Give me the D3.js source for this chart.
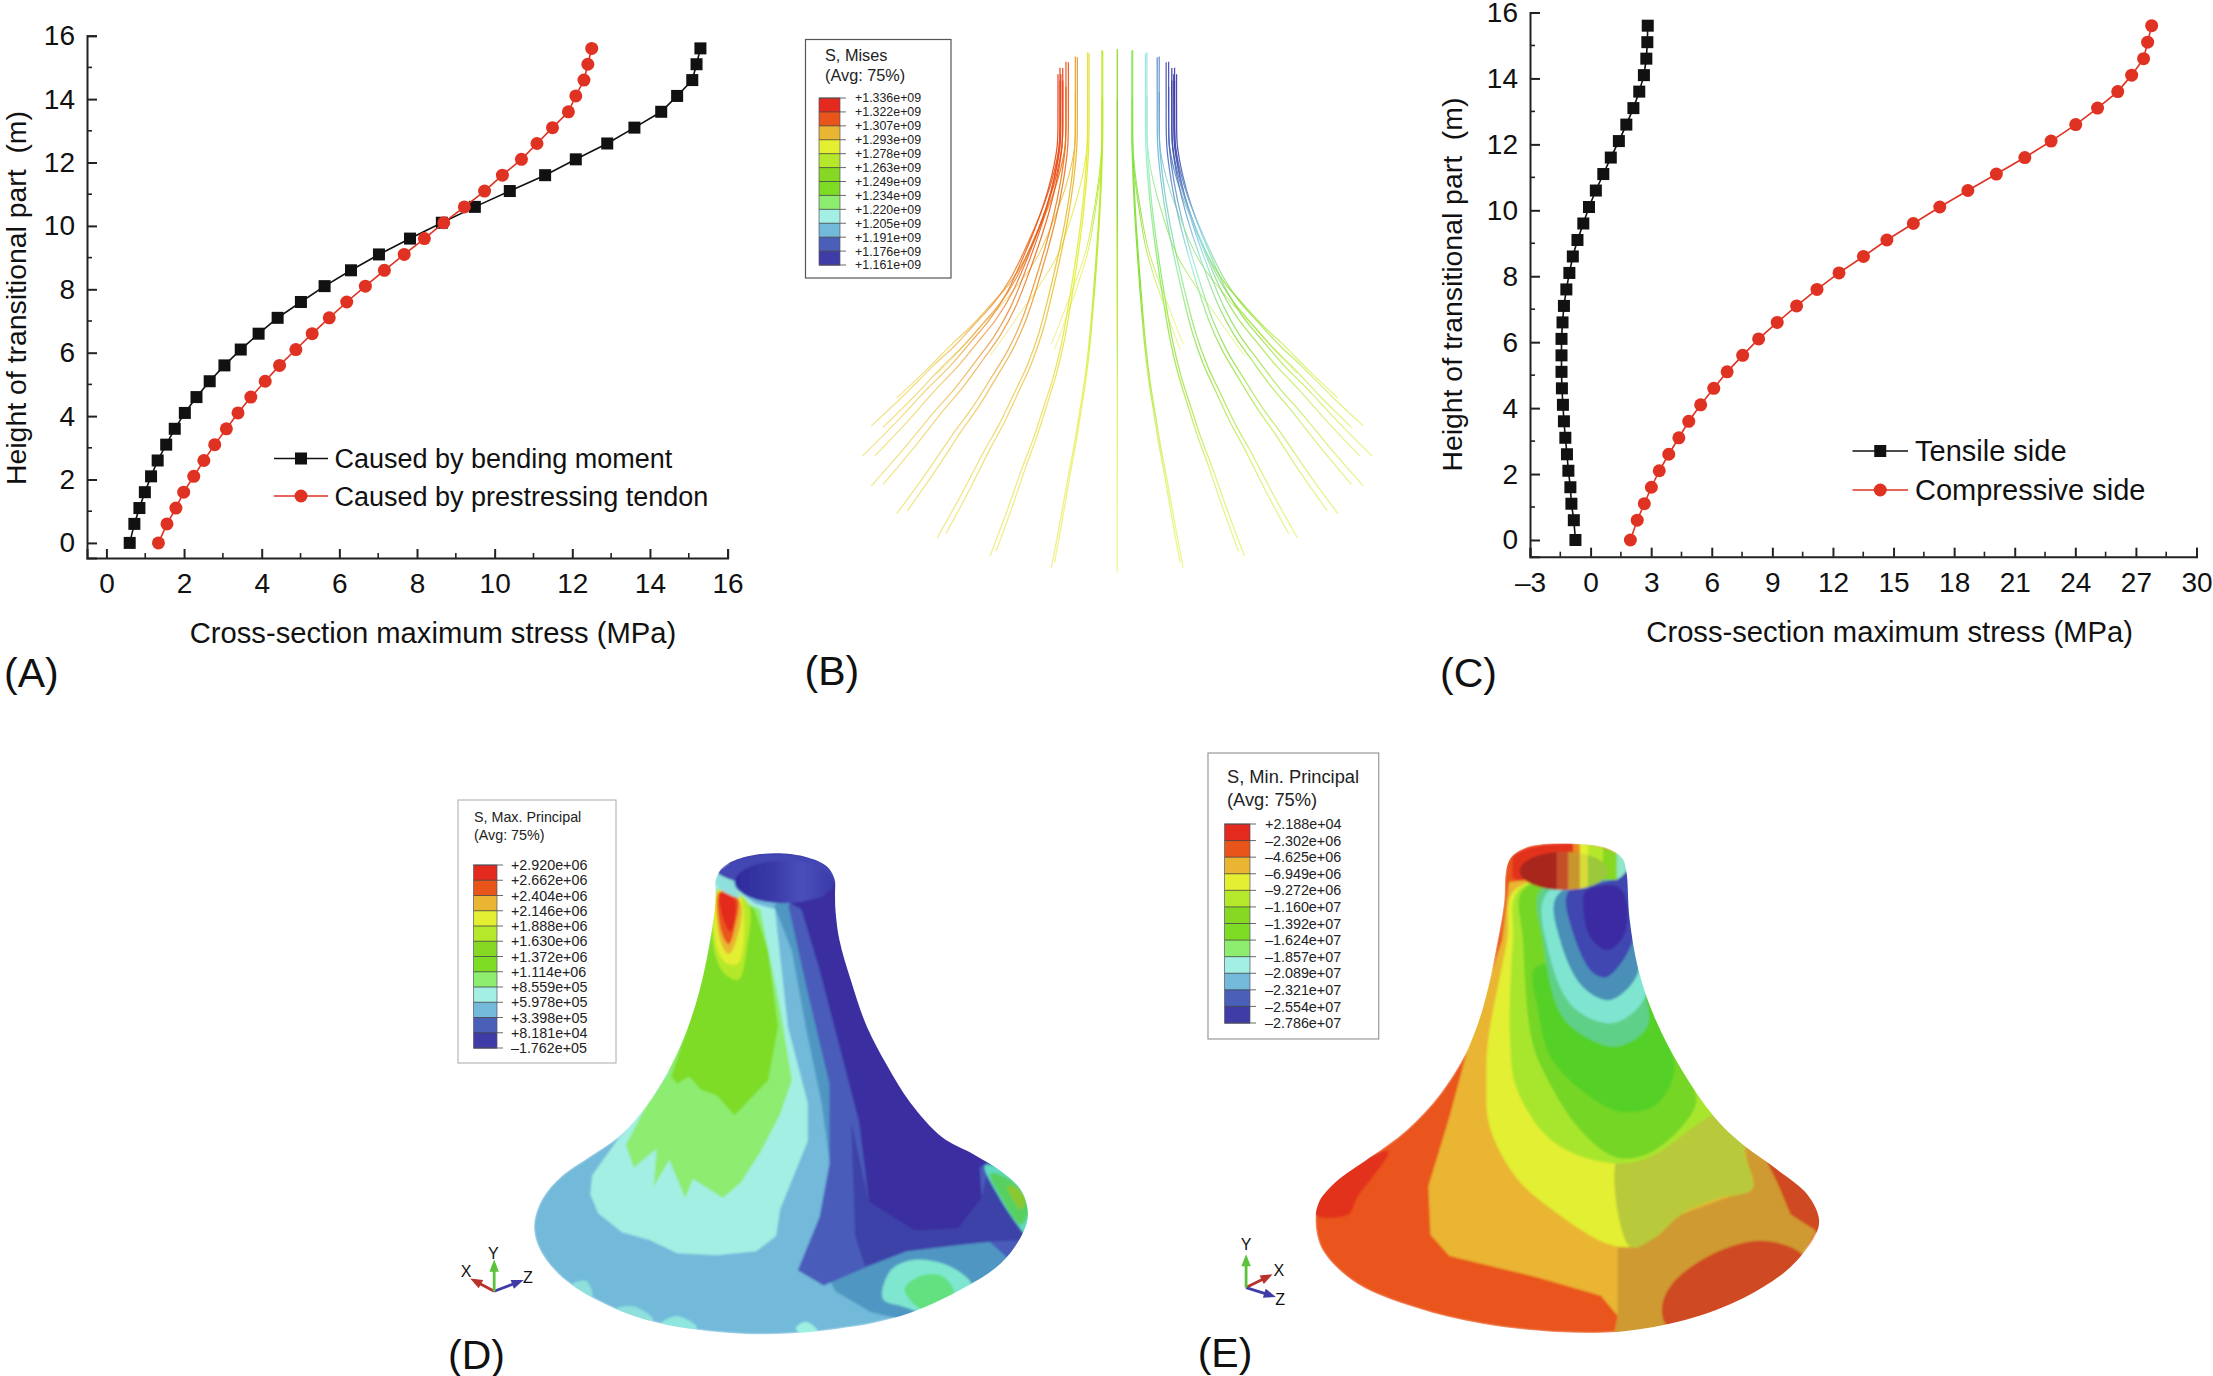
<!DOCTYPE html>
<html><head><meta charset="utf-8">
<script src="https://cdnjs.cloudflare.com/ajax/libs/d3/7.9.0/d3.min.js"></script>
<style>
html,body{margin:0;background:#fff}
svg{display:block}
text{font-family:"Liberation Sans",Arial,sans-serif;fill:#111}
.lg text{fill:#222}
</style></head><body>
<svg id="c" width="2213" height="1376"></svg>
<script>
// ---------- panels A and C: line charts ----------
const heights=[0,.6,1.1,1.6,2.1,2.6,3.1,3.6,4.1,4.6,5.1,5.6,6.1,6.6,7.1,7.6,8.1,8.6,9.1,9.6,10.1,10.6,11.1,11.6,12.1,12.6,13.1,13.6,14.1,14.6,15.1,15.6];
const bendingMoment=[.6,.72,.85,.99,1.15,1.32,1.54,1.76,2.02,2.32,2.66,3.04,3.46,3.92,4.41,5.01,5.62,6.3,7.02,7.82,8.64,9.49,10.39,11.3,12.09,12.9,13.6,14.29,14.7,15.09,15.2,15.3];
const prestressTendon=[1.34,1.56,1.79,1.99,2.25,2.51,2.79,3.09,3.39,3.72,4.09,4.46,4.88,5.3,5.74,6.19,6.67,7.16,7.67,8.19,8.69,9.22,9.74,10.2,10.69,11.09,11.49,11.9,12.09,12.3,12.4,12.5];
const tensileSide=[-.75,-.83,-.95,-1.0,-1.1,-1.17,-1.25,-1.32,-1.37,-1.42,-1.44,-1.44,-1.44,-1.39,-1.32,-1.2,-1.05,-.88,-.65,-.36,-.08,.26,.63,1.0,1.4,1.77,2.12,2.41,2.64,2.76,2.81,2.83];
const compressiveSide=[1.97,2.31,2.66,3.01,3.4,3.87,4.37,4.86,5.45,6.1,6.76,7.53,8.32,9.24,10.2,11.21,12.3,13.51,14.67,15.98,17.29,18.68,20.09,21.5,22.8,24.02,25.1,26.1,26.79,27.38,27.58,27.78];
const xTicksA=[0,2,4,6,8,10,12,14,16], xMinorA=[1,3,5,7,9,11,13,15];
const xTicksC=[-3,0,3,6,9,12,15,18,21,24,27,30], xMinorC=[-1.5,1.5,4.5,7.5,10.5,13.5,16.5,19.5,22.5,25.5,28.5];
const yTicks=[0,2,4,6,8,10,12,14,16], yMinor=[1,3,5,7,9,11,13,15];
const yTitle="Height of transitional part  (m)", xTitle="Cross-section maximum stress (MPa)";

// ---------- contour palette shared by the legends ----------
const palette=['#e4291f','#e9541a','#e9b532','#e3ef30','#b5e82a','#86d822','#7edc25','#8ced6f','#a4efe4','#72b9da','#4a60b8','#3f3ca8'];
const labelsB=['+1.336e+09','+1.322e+09','+1.307e+09','+1.293e+09','+1.278e+09','+1.263e+09','+1.249e+09','+1.234e+09','+1.220e+09','+1.205e+09','+1.191e+09','+1.176e+09','+1.161e+09'];
const labelsD=['+2.920e+06','+2.662e+06','+2.404e+06','+2.146e+06','+1.888e+06','+1.630e+06','+1.372e+06','+1.114e+06','+8.559e+05','+5.978e+05','+3.398e+05','+8.181e+04','\u20131.762e+05'];
const labelsE=['+2.188e+04','\u20132.302e+06','\u20134.625e+06','\u20136.949e+06','\u20139.272e+06','\u20131.160e+07','\u20131.392e+07','\u20131.624e+07','\u20131.857e+07','\u20132.089e+07','\u20132.321e+07','\u20132.554e+07','\u20132.786e+07'];

// ---------- panel B: tendon layout ----------
const tendonAnglesOuter=[-150,-135,-120,-105,-90,-75,-60,-45,-30,-15,0,15,30,45,60,75,90,105,120,135,150,165,180,-165];
const tendonAnglesInner=[-105,-90,-75,-60,-45,-30,-15,15,30,45,60,75,90,105,165,-165];
const profileY=[125,200,290,360,430,530,630,690,740,800,850,930,1005];
const profileR=[150,150,152,166,188,230,280,322,368,425,480,562,644];
// colour band index along the height, at the left and right sides of the ring
const bandS=[0,.2,.45,.65,.85,1];
const bandLeft=[.4,.8,1.1,1.5,2.2,2.5];
const bandRight=[11.4,10.6,8.4,5.8,4.0,3.4];
const bandOpacity=[.95,.95,.9,.75,.62,.55];

// ---------- panel D contours (in crop units) ----------
const dBody=[[697,262],[697,300],[695,340],[680,440],[655,560],[620,670],[575,770],[520,860],[450,940],[380,990],[310,1040],[260,1100],[238,1170],[250,1230],[300,1300],[400,1370],[520,1420],[680,1450],[830,1458],[1000,1445],[1150,1415],[1300,1350],[1420,1270],[1475,1190],[1487,1140],[1470,1080],[1420,1030],[1350,985],[1270,940],[1190,850],[1130,750],[1080,650],[1040,530],[1010,420],[1000,340],[999,300],[998,262],[980,229],[930,204],[848,193],[766,204],[716,229]];
const dSteel=[[845,330],[890,450],[925,650],[965,850],[985,1000],[1000,1180],[950,1240],[1000,1345],[1090,1400],[1170,1420],[1520,1420],[1520,900],[1000,200]];
const dBlue=[[881,330],[930,560],[985,800],[985,1010],[960,1150],[905,1290],[970,1330],[1070,1285],[1180,1240],[1320,1222],[1390,1215],[1440,1262],[1490,1215],[1500,1000],[1250,850],[1000,200]];
const dBlueDeep=[[1040,900],[1085,1110],[1200,1185],[1310,1180],[1370,1100],[1390,1000],[1440,1040],[1480,1210],[1390,1215],[1320,1222],[1180,1240],[1075,1280],[1050,1200]];
const dDark=[[914,340],[960,500],[1010,700],[1060,900],[1085,1110],[1200,1185],[1310,1180],[1370,1100],[1365,1020],[1390,1000],[1500,1000],[1500,180],[720,180],[735,240]];
const dSpotTeal=[[1378,1015],[1410,1090],[1460,1170],[1482,1195],[1500,1100],[1440,1030]];
const dSpotGreen=[[1392,1035],[1420,1100],[1470,1170],[1490,1120],[1440,1050]];
const dSpotCore=[[1435,1070],[1470,1130],[1480,1100],[1455,1070]];
const dPatchTeal=[[1120,1365],[1140,1290],[1200,1262],[1290,1280],[1345,1330],[1300,1372],[1230,1400],[1170,1385]];
const dPatchGreen=[[1175,1340],[1215,1305],[1270,1305],[1300,1350],[1225,1395]];
const dDotA=[[900,1442],[925,1425],[955,1450],[915,1458]];
const dDotB=[[560,1430],[600,1410],[650,1440],[600,1450]];
const dDotC=[[440,1395],[490,1385],[540,1420],[480,1425]];
const dDotD=[[330,1330],[370,1318],[385,1360],[350,1350]];
const dTurq=[[385,1040],[380,1090],[400,1140],[460,1190],[530,1210],[600,1245],[700,1250],[800,1240],[850,1200],[860,1130],[930,950],[930,850],[880,650],[847,340],[796,325],[700,250],[650,560],[520,860],[450,945]];
const dLight=[[575,775],[520,860],[470,960],[490,1020],[548,970],[540,1070],[580,1000],[620,1100],[640,1050],[715,1100],[760,1060],[810,980],[860,880],[890,790],[860,600],[810,340],[700,290]];
const dGreen=[[700,300],[680,440],[620,670],[585,780],[600,800],[630,780],[660,815],[700,830],[745,882],[775,850],[830,790],[855,650],[830,450],[795,340],[750,300]];
const dHot5=[[705,285],[692,440],[720,510],[755,525],[775,450],[778,320]];
const dHot4=[[705,290],[700,440],[725,482],[755,482],[768,340],[755,300]];
const dHot3=[[706,292],[708,420],[730,458],[750,420],[760,320]];
const dHot2=[[707,295],[712,400],[730,432],[745,390],[752,310]];
const dHot1=[[708,298],[718,370],[735,400],[748,320],[735,305]];
const dRimCyan=[[697,262],[710,240],[735,232],[745,280],[760,310],[705,285]];
const dHoleStops=[[0,'#2e2a9c'],[.4,'#3a3aa8'],[.68,'#4a50ba'],[1,'#3a3aaa']];

// ---------- panel E contours (in crop units) ----------
const eBody=[[775,320],[770,400],[750,520],[720,660],[680,770],[620,870],[540,960],[450,1030],[370,1090],[330,1140],[322,1190],[340,1260],[420,1340],[560,1400],[720,1440],[900,1460],[1050,1458],[1200,1430],[1340,1375],[1450,1300],[1510,1220],[1518,1180],[1490,1120],[1420,1060],[1340,1000],[1270,930],[1190,810],[1130,690],[1090,570],[1068,440],[1060,320],[1050,290],[1010,265],[915,255],[830,262],[790,285]];
const eRedLeft=[[320,1170],[400,1170],[420,1130],[495,1015],[440,1030],[340,1100]];
const eRedRight=[[1380,1010],[1420,1095],[1450,1170],[1525,1215],[1530,1100]];
const eRedFoot=[[1145,1400],[1170,1340],[1260,1270],[1370,1235],[1460,1255],[1490,1290],[1350,1390],[1160,1445]];
const eOrange=[[782,350],[765,493],[689,740],[640,930],[590,1100],[595,1220],[640,1272],[850,1325],[1000,1370],[1040,1420],[1030,1475],[1170,1465],[1145,1400],[1170,1340],[1260,1270],[1370,1235],[1480,1270],[1510,1210],[1450,1170],[1420,1095],[1380,1010],[1270,900],[1060,320]];
const eOrangeShade=[[1040,1250],[1040,1420],[1030,1475],[1170,1465],[1145,1400],[1170,1340],[1260,1270],[1370,1235],[1480,1270],[1510,1210],[1450,1170],[1420,1095],[1380,1010],[1340,1000],[1360,1105],[1190,1170],[1070,1250]];
const eYellow=[[795,370],[777,493],[732,740],[728,830],[735,950],[800,1080],[900,1170],[1010,1240],[1070,1250],[1130,1225],[1190,1170],[1280,1130],[1360,1105],[1345,1000],[1500,900],[1400,300],[1060,330]];
const eYellowShade=[[1040,1030],[1070,1250],[1130,1225],[1190,1170],[1280,1130],[1360,1105],[1345,1000],[1500,900],[1270,900],[1100,1025]];
const eLime=[[805,370],[791,493],[784,740],[800,860],[880,985],[1000,1040],[1100,1035],[1225,950],[1400,800],[1300,300],[1060,330]];
const eGreen2=[[815,370],[815,493],[836,740],[870,830],[950,960],[1040,1030],[1130,1010],[1225,900],[1215,840],[1130,600],[1062,340]];
const eGreen1=[[845,560],[850,660],[880,780],[950,860],[1040,915],[1130,900],[1175,810],[1135,690],[1100,600]];
const eMint=[[857,370],[862,493],[903,673],[960,730],[1038,756],[1110,707],[1100,600],[1070,450],[1062,340]];
const eTurq=[[870,380],[879,535],[934,658],[1029,698],[1105,633],[1085,520],[1062,340]];
const eTeal=[[895,385],[903,493],[957,609],[1022,641],[1088,574],[1072,440],[1060,330]];
const eBlue=[[922,375],[934,476],[981,574],[1014,584],[1076,493],[1068,400],[1060,318],[1025,345]];
const eDark=[[958,402],[974,485],[1014,518],[1053,485],[1062,402],[1040,362],[965,372]];
const eRimEdges=[770,790,934,950,969,1005,1038,1065];
const eRimColors=['#e9541a','#e3321f','#e98a20','#e3ef30','#b5e82a','#86d822','#8fe6c8'];
const eHoleEdges=[800,895,922,950,969,1020];
const eHoleColors=['#a8281a','#c4502a','#c9962f','#d8dc3a','#9cc83a'];

// ---------- helpers ----------
const svg=d3.select('#c');
const defs=svg.append('defs');
defs.append('filter').attr('id','soft').append('feGaussianBlur').attr('stdDeviation',.9);
defs.append('filter').attr('id','soft2').append('feGaussianBlur').attr('stdDeviation',.4);

function linePanel(o){
  const x=d3.scaleLinear().domain(o.xDom).range(o.xRange);
  const y=d3.scaleLinear().domain(o.yDom).range(o.yRange);
  const g=svg.append('g');
  const axX=d3.axisBottom(x).tickValues(o.xTicks).tickSize(-9).tickPadding(15).tickFormat(d=>d<0?'\u2013'+(-d):d);
  const axY=d3.axisLeft(y).tickValues(yTicks).tickSize(-10).tickPadding(12);
  const gx=g.append('g').attr('transform',`translate(0,${o.yRange[0]})`).call(axX);
  const gy=g.append('g').attr('transform',`translate(${o.xRange[0]},0)`).call(axY);
  [gx,gy].forEach(a=>{a.selectAll('path,line').attr('stroke','#222').attr('stroke-width',2);
    a.selectAll('text').attr('font-size',28).attr('fill','#111').attr('font-family','"Liberation Sans",Arial,sans-serif');});
  g.selectAll('.mx').data(o.xMinor).join('line').attr('x1',d=>x(d)).attr('x2',d=>x(d)).attr('y1',o.yRange[0]).attr('y2',o.yRange[0]-5).attr('stroke','#222').attr('stroke-width',1.6);
  g.selectAll('.my').data(yMinor).join('line').attr('y1',d=>y(d)).attr('y2',d=>y(d)).attr('x1',o.xRange[0]).attr('x2',o.xRange[0]+5).attr('stroke','#222').attr('stroke-width',1.6);
  const line=d3.line().x(d=>x(d[0])).y(d=>y(d[1]));
  o.series.forEach(s=>{
    const pts=s.values.map((v,i)=>[v,heights[i]]);
    g.append('path').attr('d',line(pts)).attr('fill','none').attr('stroke',s.color).attr('stroke-width',1.6);
    mark(g,s,pts.map(p=>[x(p[0]),y(p[1])]));
  });
  o.series.forEach((s,i)=>{
    const ly=o.legendY[i];
    g.append('line').attr('x1',o.legendX[0]).attr('x2',o.legendX[1]).attr('y1',ly).attr('y2',ly).attr('stroke',s.color).attr('stroke-width',1.6);
    mark(g,s,[[(o.legendX[0]+o.legendX[1])/2,ly]]);
    g.append('text').attr('x',o.legendX[2]).attr('y',ly).attr('dy','.36em').attr('font-size',o.legendFont).text(s.name);
  });
  g.append('text').attr('x',o.xTitle[0]).attr('y',o.xTitle[1]).attr('dy','.36em').attr('text-anchor','middle').attr('font-size',29.2).text(xTitle);
  g.append('text').attr('transform',`translate(${o.yTitle[0]},${o.yTitle[1]}) rotate(-90)`).attr('dy','.36em').attr('text-anchor','middle').attr('font-size',28.4).style('white-space','pre').text(yTitle);
}
function mark(g,s,pts){
  if(s.shape==='square') g.selectAll(null).data(pts).join('rect').attr('x',d=>d[0]-6).attr('y',d=>d[1]-6).attr('width',12).attr('height',12).attr('fill',s.color);
  else g.selectAll(null).data(pts).join('circle').attr('cx',d=>d[0]).attr('cy',d=>d[1]).attr('r',6.5).attr('fill',s.color);
}
function panelLabel(t,x,y){svg.append('text').attr('x',x).attr('y',y).attr('dy','.36em').attr('font-size',41).text(t);}

function legend(o){
  const g=svg.append('g').attr('class','lg');
  g.append('rect').attr('x',o.box[0]).attr('y',o.box[1]).attr('width',o.box[2]-o.box[0]).attr('height',o.box[3]-o.box[1]).attr('fill','#fff').attr('stroke',o.stroke).attr('stroke-width',o.sw);
  o.title.forEach((t,i)=>g.append('text').attr('x',o.titleX).attr('y',o.titleY[i]).attr('dy','.36em').attr('font-size',o.titleFont).text(t));
  const y=d3.scalePoint().domain(o.labels).range(o.bandY);
  g.selectAll(null).data(palette).join('rect').attr('x',o.bandX[0]).attr('width',o.bandX[1]-o.bandX[0])
    .attr('y',(d,i)=>y(o.labels[i])).attr('height',(d,i)=>y(o.labels[i+1])-y(o.labels[i])+.4).attr('fill',d=>d);
  g.selectAll(null).data(o.labels).join('line').attr('x1',o.bandX[0]).attr('x2',o.bandX[1]+6).attr('y1',d=>y(d)).attr('y2',d=>y(d)).attr('stroke','#444').attr('stroke-width',.8);
  g.selectAll(null).data(o.labels).join('text').attr('x',o.labelX).attr('y',d=>y(d)).attr('dy','.36em').attr('font-size',o.labelFont).attr('fill','#111').text(d=>d);
  g.append('rect').attr('x',o.bandX[0]).attr('y',o.bandY[0]).attr('width',o.bandX[1]-o.bandX[0]).attr('height',o.bandY[1]-o.bandY[0]).attr('fill','none').attr('stroke','#556').attr('stroke-width',.7);
}

function triad(g,X,Y,t){
  const arrow=(a,c)=>{
    const ang=Math.atan2(Y(a[1])-Y(t.o[1]),X(a[0])-X(t.o[0]));
    g.append('line').attr('x1',X(t.o[0])).attr('y1',Y(t.o[1])).attr('x2',X(a[0])).attr('y2',Y(a[1])).attr('stroke',c).attr('stroke-width',2.8);
    const ex=X(a[0]),ey=Y(a[1]);
    const p=[[ex+Math.cos(ang)*7,ey+Math.sin(ang)*7],[ex+Math.cos(ang+2.4)*7,ey+Math.sin(ang+2.4)*7],[ex+Math.cos(ang-2.4)*7,ey+Math.sin(ang-2.4)*7]];
    g.append('path').attr('d',d3.line()(p)+'Z').attr('fill',c);
  };
  arrow(t.x,'#b8312a');arrow(t.z,'#3f3ca8');arrow(t.y,'#5cc23a');
  ['lx','ly','lz'].forEach((k,i)=>g.append('text').attr('x',X(t[k][0])).attr('y',Y(t[k][1])).attr('dy','.36em').attr('text-anchor','middle').attr('font-size',16).text('XYZ'[i]));
}

// ---------- draw A, C ----------
linePanel({xDom:[-.5,16],xRange:[87,727.6],yDom:[-.476,16],yRange:[558,35.7],xTicks:xTicksA,xMinor:xMinorA,
  series:[{name:'Caused by bending moment',values:bendingMoment,color:'#111',shape:'square'},{name:'Caused by prestressing tendon',values:prestressTendon,color:'#e03222',shape:'circle'}],
  legendX:[274,328,334.5],legendY:[458.5,496],legendFont:27,xTitle:[433,632],yTitle:[15.5,298]});
linePanel({xDom:[-3,30],xRange:[1530,2196.5],yDom:[-.507,16],yRange:[556.7,12.5],xTicks:xTicksC,xMinor:xMinorC,
  series:[{name:'Tensile side',values:tensileSide,color:'#111',shape:'square'},{name:'Compressive side',values:compressiveSide,color:'#e03222',shape:'circle'}],
  legendX:[1852.5,1908,1915],legendY:[451,490],legendFont:29,xTitle:[1889.6,631],yTitle:[1452,284.6]});
panelLabel('(A)',4,672);panelLabel('(B)',804.5,670);panelLabel('(C)',1440,672);panelLabel('(D)',448,1354);panelLabel('(E)',1197.7,1352);

// ---------- draw B ----------
(function(){
  const X=d3.scaleLinear().domain([0,1568]).range([780,1400]);
  const Y=d3.scaleLinear().domain([0,1568]).range([20,700]);
  const g=svg.append('g').attr('filter','url(#soft2)');
  const cx=853;
  const sOf=d3.scaleLinear().domain([125,1005]).range([0,1]);
  const kOf=d3.scaleLinear().domain([0,1]).range([-58,267]);
  const L=d3.scaleLinear().domain(bandS).range(bandLeft), R=d3.scaleLinear().domain(bandS).range(bandRight);
  const smooth=d3.line().curve(d3.curveCatmullRom).x(d=>X(d[0])).y(d=>Y(d[1]));
  const ramp=d3.piecewise(d3.interpolateRgb,palette);
  const colour=b=>ramp(Math.min(1,Math.max(0,b/11)));
  let id=0;
  function tendon(a,scale){
    const th=a*Math.PI/180;
    const pts=profileY.map((py,i)=>{const s=sOf(py);return [cx+scale*profileR[i]*Math.sin(th),py+scale*kOf(s)*Math.cos(th)];});
    const gid='tg'+(id++);
    const grad=defs.append('linearGradient').attr('id',gid).attr('gradientUnits','userSpaceOnUse')
      .attr('x1',0).attr('x2',0).attr('y1',Y(pts[0][1])).attr('y2',Y(pts[pts.length-1][1]));
    bandS.forEach((s,i)=>{
      const l=L(s),r=R(s),c=s<.5?5:(l+r)/2,sn=Math.sin(th);
      const b=sn<0? c+(l-c)*(-sn): c+(r-c)*sn;
      grad.append('stop').attr('offset',s).attr('stop-color',colour(b)).attr('stop-opacity',bandOpacity[i]);
    });
    g.append('path').attr('d',smooth(pts)).attr('fill','none').attr('stroke',`url(#${gid})`)
      .attr('stroke-width',Math.abs(a)>120?1:1.25);
  }
  tendonAnglesOuter.forEach(a=>tendon(a,1));
  tendonAnglesInner.forEach(a=>tendon(a,.952));
})();
legend({box:[805.5,39.5,951,278],stroke:'#555',sw:1.2,title:['S, Mises','(Avg: 75%)'],titleX:825,titleY:[54.7,75],titleFont:16.3,labels:labelsB,bandX:[819,840],bandY:[98,265],labelX:855,labelFont:12.4});

// ---------- draw D ----------
function contourPanel(name,X,Y,body,layers){
  const clip=defs.append('clipPath').attr('id',name);
  const shape=d3.line().curve(d3.curveCatmullRomClosed.alpha(.5)).x(d=>X(d[0])).y(d=>Y(d[1]));
  clip.append('path').attr('d',shape(body));
  const g=svg.append('g').attr('clip-path',`url(#${name})`).append('g').attr('filter','url(#soft)');
  g.append('path').attr('d',shape(body)).attr('fill',layers.base);
  layers.list.forEach(l=>g.append('path').attr('d',l.sharp?d3.line().x(d=>X(d[0])).y(d=>Y(d[1]))(l.p)+'Z':shape(l.p)).attr('fill',l.c));
  return g;
}
(function(){
  const X=d3.scaleLinear().domain([0,1568]).range([440,1060]);
  const Y=d3.scaleLinear().domain([0,1568]).range([780,1376]);
  const g=contourPanel('clipD',X,Y,dBody,{base:'#72b9da',list:[
    {p:dSteel,c:'#4f97c2',sharp:1},{p:dBlue,c:'#4a5cba',sharp:1},{p:dBlueDeep,c:'#3d42a8',sharp:1},{p:dDark,c:'#3a2ea0',sharp:1},
    {p:dSpotTeal,c:'#5fd9c0'},{p:dSpotGreen,c:'#58d060'},{p:dSpotCore,c:'#8ac830'},
    {p:dPatchTeal,c:'#7fe6d0'},{p:dPatchGreen,c:'#64e080'},
    {p:dDotA,c:'#9ef0e0'},{p:dDotB,c:'#8fe6de'},{p:dDotC,c:'#8fe0dc'},{p:dDotD,c:'#8fe0dc'},
    {p:dTurq,c:'#a4efe4',sharp:1},{p:dLight,c:'#8ced6f',sharp:1},{p:dGreen,c:'#7edc25',sharp:1},
    {p:dHot5,c:'#b5e82a'},{p:dHot4,c:'#e3ef30'},{p:dHot3,c:'#e9b532'},{p:dHot2,c:'#e9541a'},{p:dHot1,c:'#e4291f'},
    {p:dRimCyan,c:'#8fe0dc'}]});
  const hg=defs.append('linearGradient').attr('id','holeD');
  dHoleStops.forEach(s=>hg.append('stop').attr('offset',s[0]).attr('stop-color',s[1]));
  g.append('path').attr('d',d3.line().curve(d3.curveCatmullRomClosed)(d3.range(0,360,15).map(a=>[X(848+150*Math.cos(a*Math.PI/180)),Y(262+69*Math.sin(a*Math.PI/180))]).filter(p=>p[1]<Y(262)||p[0]>X(950)))).attr('fill','#4347b4');
  g.append('ellipse').attr('cx',X(870)).attr('cy',Y(268)).attr('rx',X(994)-X(870)).attr('ry',Y(324)-Y(268)).attr('fill','url(#holeD)');
  triad(svg.append('g'),X,Y,{o:[137,1345],x:[92,1320],y:[137,1280],z:[195,1322],lx:[66,1293],ly:[135,1245],lz:[222,1307]});
})();
legend({box:[458,800,616,1063],stroke:'#aaa',sw:1,title:['S, Max. Principal','(Avg: 75%)'],titleX:474,titleY:[817,835],titleFont:14.3,labels:labelsD,bandX:[473.6,497],bandY:[865,1048],labelX:511,labelFont:14.3});

// ---------- draw E ----------
(function(){
  const X=d3.scaleLinear().domain([0,1568]).range([1180,1840]);
  const Y=d3.scaleLinear().domain([0,1568]).range([740,1376]);
  const g=contourPanel('clipE',X,Y,eBody,{base:'#e9541a',list:[
    {p:eRedLeft,c:'#e3321f'},{p:eRedRight,c:'#cf4a20'},
    {p:eOrange,c:'#e9b532',sharp:1},{p:eOrangeShade,c:'#cf9a30',sharp:1},{p:eRedFoot,c:'#cf4a20'},
    {p:eYellow,c:'#e3ef30'},{p:eYellowShade,c:'#b8c93a'},{p:eLime,c:'#a8e62e'},{p:eGreen2,c:'#74d628'},{p:eGreen1,c:'#55d028'},
    {p:eMint,c:'#5fd088'},{p:eTurq,c:'#7fe5d0'},{p:eTeal,c:'#4a8fb8'},{p:eBlue,c:'#3f46b0'},{p:eDark,c:'#3a2ba2'}]});
  const mk=(id,cx,cy,rx,ry)=>defs.append('clipPath').attr('id',id).append('ellipse').attr('cx',X(cx)).attr('cy',Y(cy)).attr('rx',X(cx+rx)-X(cx)).attr('ry',Y(cy+ry)-Y(cy));
  mk('rimE',918,312,145,58);mk('holeE',912,323,105,47);
  const rim=g.append('g').attr('clip-path','url(#rimE)');
  rim.selectAll(null).data(eRimColors).join('rect').attr('x',(d,i)=>X(eRimEdges[i])).attr('width',(d,i)=>X(eRimEdges[i+1])-X(eRimEdges[i])+.5).attr('y',Y(240)).attr('height',Y(345)-Y(240)).attr('fill',d=>d);
  const hole=g.append('g').attr('clip-path','url(#holeE)');
  hole.selectAll(null).data(eHoleColors).join('rect').attr('x',(d,i)=>X(eHoleEdges[i])).attr('width',(d,i)=>X(eHoleEdges[i+1])-X(eHoleEdges[i])+.5).attr('y',Y(260)).attr('height',Y(380)-Y(260)).attr('fill',d=>d);
  triad(svg.append('g'),X,Y,{o:[157,1350],x:[205,1325],y:[157,1285],z:[212,1368],lx:[235,1307],ly:[157,1243],lz:[238,1378]});
})();
legend({box:[1208,753,1378.7,1039],stroke:'#999',sw:1.2,title:['S, Min. Principal','(Avg: 75%)'],titleX:1227,titleY:[776.5,799.6],titleFont:18.3,labels:labelsE,bandX:[1224.6,1250],bandY:[824,1023],labelX:1265,labelFont:14.35});
</script>
</body></html>
